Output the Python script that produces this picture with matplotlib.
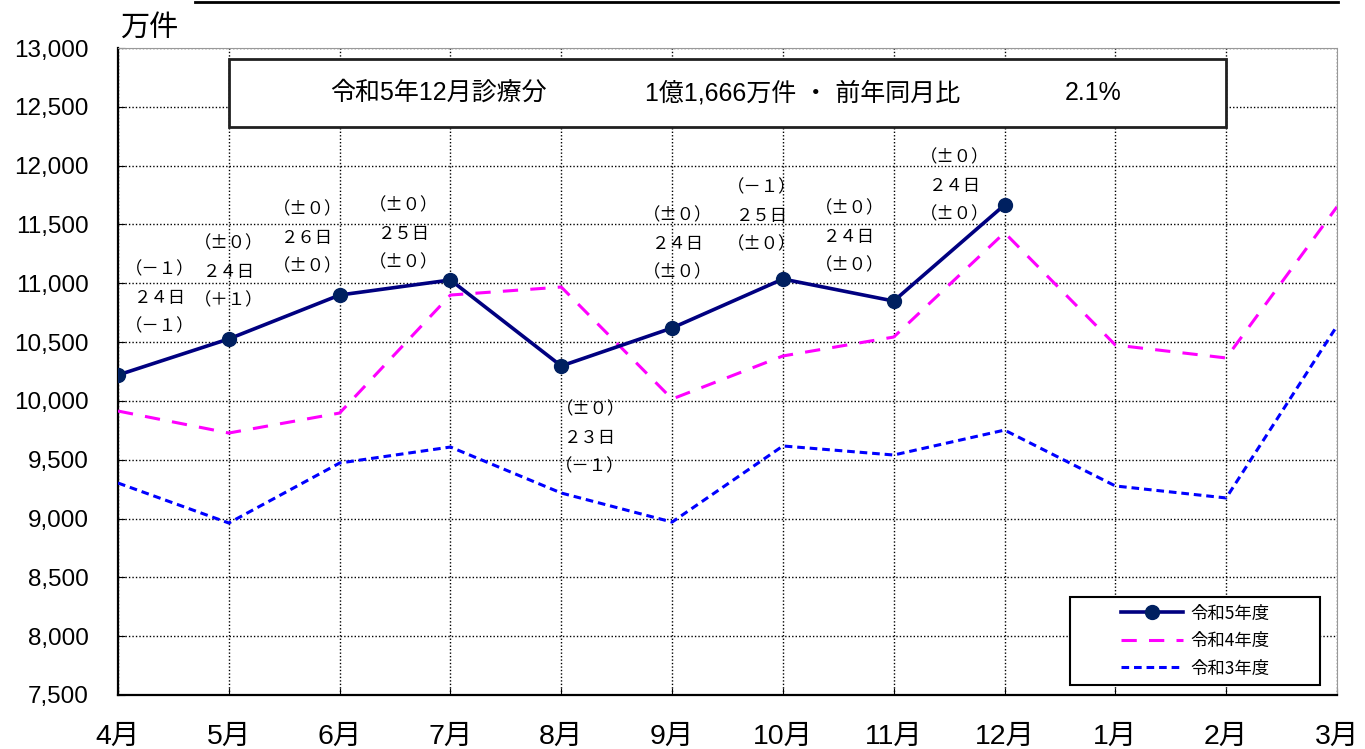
import numpy as np
import matplotlib.pyplot as plt
from matplotlib.lines import Line2D
from matplotlib.patches import Rectangle

plt.rcParams['font.family'] = ['Liberation Sans', 'Noto Sans CJK JP', 'DejaVu Sans']

months = ['4月', '5月', '6月', '7月', '8月', '9月', '10月', '11月', '12月', '1月', '2月', '3月']

# 万件
r5 = [10220, 10527, 10900, 11028, 10297, 10620, 11036, 10849, 11666]
r4 = [9914, 9727, 9897, 10900, 10968, 10016, 10382, 10543, 11430, 10475, 10365, 11650]
r3 = [9302, 8962, 9472, 9608, 9217, 8970, 9617, 9540, 9752, 9277, 9175, 10637]

# 日数注記 (前年差, 診療日数, 前月差)
notes = [
    ('（－１）', '２４日', '（－１）'),
    ('（±０）', '２４日', '（＋１）'),
    ('（±０）', '２６日', '（±０）'),
    ('（±０）', '２５日', '（±０）'),
    ('（±０）', '２３日', '（－１）'),
    ('（±０）', '２４日', '（±０）'),
    ('（－１）', '２５日', '（±０）'),
    ('（±０）', '２４日', '（±０）'),
    ('（±０）', '２４日', '（±０）'),
]
# 注記の中心位置 (x: 月インデックス, y: 中段の値)
note_x = [0.38, 1.0, 1.71, 2.58, 4.26, 5.05, 5.81, 6.6, 7.55]
note_y = [10875, 11096, 11385, 11419, 9685, 11334, 11572, 11393, 11827]

title_parts = ['令和5年12月診療分', '1億1,666万件 ・ 前年同月比', '2.1%']
title_x = [330, 645, 1065]  # pixel left edges

fig = plt.figure(figsize=(13.65, 7.49), dpi=100)
ax = fig.add_axes([118 / 1365, 1 - 695 / 749, (1337 - 118) / 1365, (695 - 48) / 749])

x = np.arange(len(months))
ax.plot(x[:len(r5)], r5, color='#000080', lw=2.6, marker='o', ms=10,
        mfc='#002060', mec='#002060', label='令和5年度', zorder=5)
ax.plot(x, r4, color='#ff00ff', lw=2.2, dashes=(5, 4), label='令和4年度', zorder=4)
ax.plot(x, r3, color='#0000ff', lw=2.2, dashes=(2.5, 1.6), label='令和3年度', zorder=4)

ax.set_xlim(0, 11)
ax.set_ylim(7500, 13000)
ax.set_yticks(np.arange(7500, 13001, 500))
ax.set_yticklabels([f'{v:,}' for v in range(7500, 13001, 500)], fontsize=17.5)
ax.set_xticks(x)
ax.set_xticklabels(months, fontsize=20.5)
ax.tick_params(axis='x', direction='in', length=5, pad=21)
ax.tick_params(axis='y', direction='in', length=5, pad=21)

ax.grid(True, color='black', linestyle=(0, (1, 1.5)), lw=1)
ax.spines['left'].set_linewidth(1.6)
ax.spines['bottom'].set_linewidth(1.6)
for s in ['top', 'right']:
    ax.spines[s].set_color('#999999')
    ax.spines[s].set_linestyle((0, (1, 1)))

for (a, b, c), nx, ny in zip(notes, note_x, note_y):
    step = 242
    for txt, dy in ((a, step), (b, 0), (c, -step)):
        ax.text(nx, ny + dy, txt, ha='center', va='center', fontsize=12.5,
                family=['Noto Sans CJK JP', 'DejaVu Sans'], zorder=6)

# 上部の囲み
ax.add_patch(Rectangle((1.0, 12330), 9.0, 580, fill=True, facecolor='white',
                       edgecolor='#202020', lw=2, zorder=6))
for txt, px in zip(title_parts, title_x):
    fig.text(px / 1365, 1 - 93 / 749, txt, ha='left', va='center',
             fontsize=18, zorder=7)

fig.text(120 / 1365, 1 - 28 / 749, '万件', fontsize=21, ha='left', va='center',
         family=['Noto Sans CJK JP'])
fig.add_artist(Line2D([195 / 1365, 1338 / 1365], [1 - 2 / 749, 1 - 2 / 749],
                      color='black', lw=2))

# 凡例
bx0, bx1 = (1070 - 118) / 110.82, (1320 - 118) / 110.82
by0, by1 = 7500 + 10 * 8.5, 7500 + 98 * 8.5
ax.add_patch(Rectangle((bx0, by0), bx1 - bx0, by1 - by0, facecolor='white',
                       edgecolor='black', lw=1.5, zorder=7))
leg = ax.legend(loc='center', bbox_to_anchor=((bx0 + bx1) / 2, (by0 + by1) / 2),
                bbox_transform=ax.transData, fontsize=12.5, frameon=False,
                handlelength=3.6, handletextpad=0.4, labelspacing=0.55,
                borderpad=0)
leg.set_zorder(8)
for t in leg.get_texts():
    t.set_family(['Noto Sans CJK JP'])

fig.savefig('out.png', dpi=100)
